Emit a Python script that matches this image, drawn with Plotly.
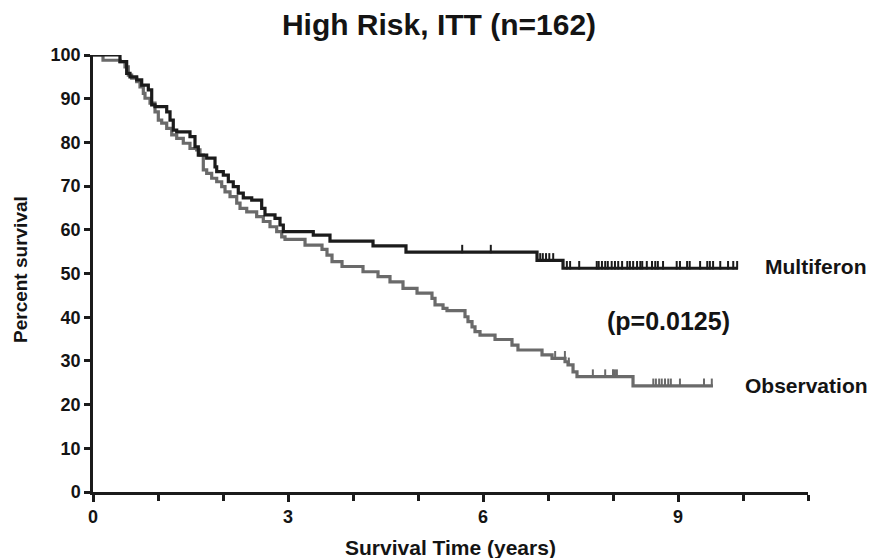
import numpy as np
import plotly.graph_objects as go

# ---- data ----
multiferon_time = [0, 0.415, 0.518, 0.569, 0.672, 0.749, 0.851, 0.903, 0.954, 1.134,
                   1.185, 1.235, 1.288, 1.492, 1.569, 1.620, 1.749, 1.877, 1.903, 2.005,
                   2.082, 2.158, 2.235, 2.312, 2.442, 2.595, 2.646, 2.80, 2.877, 2.928,
                   3.389, 3.646, 4.308, 4.815, 6.831, 7.231, 9.92]
multiferon_surv = [100, 98.5, 95.8, 95.0, 94.3, 93.1, 92.0, 88.6, 88.2, 87.0,
                   85.1, 82.8, 82.4, 81.3, 79.0, 77.1, 76.4, 74.4, 73.3, 72.5,
                   71.0, 69.9, 68.4, 67.3, 66.8, 64.9, 63.4, 62.6, 61.1, 59.6,
                   58.8, 57.4, 56.3, 54.9, 53.0, 51.2, 51.2]
multiferon_censor = [5.68, 6.12, 6.88, 6.92, 6.97, 7.02, 7.08, 7.29, 7.34, 7.48, 7.75,
                     7.78, 7.83, 7.88, 7.92, 7.98, 8.03, 8.08, 8.14, 8.22, 8.26, 8.31,
                     8.37, 8.42, 8.45, 8.52, 8.60, 8.65, 8.69, 8.77, 8.98, 9.03, 9.14,
                     9.18, 9.34, 9.45, 9.49, 9.54, 9.65, 9.77, 9.85, 9.91]

observation_time = [0, 0.154, 0.415, 0.492, 0.543, 0.595, 0.672, 0.723, 0.774, 0.800,
                    0.877, 0.954, 1.005, 1.057, 1.134, 1.211, 1.288, 1.389, 1.492, 1.595,
                    1.646, 1.697, 1.749, 1.826, 1.903, 1.980, 2.031, 2.108, 2.211, 2.262,
                    2.365, 2.518, 2.620, 2.723, 2.826, 2.903, 2.954, 3.262, 3.523, 3.600,
                    3.677, 3.831, 4.154, 4.385, 4.569, 4.769, 4.985, 5.215, 5.262, 5.385,
                    5.446, 5.723, 5.769, 5.831, 5.877, 5.954, 6.185, 6.446, 6.538, 6.908,
                    7.062, 7.262, 7.308, 7.385, 7.446, 8.308, 9.538]
observation_surv = [100, 98.8, 98.5, 97.3, 95.4, 94.7, 93.9, 92.7, 91.2, 90.1,
                    89.0, 87.0, 85.1, 84.4, 83.2, 81.7, 80.9, 79.8, 78.6, 78.3,
                    77.1, 73.7, 72.9, 71.8, 71.0, 69.9, 68.7, 67.6, 66.1, 64.9,
                    64.1, 63.0, 61.9, 60.7, 59.6, 58.4, 57.8, 56.5, 55.5, 54.2,
                    52.7, 51.6, 50.4, 49.3, 48.1, 46.6, 45.5, 44.3, 42.8, 42.0,
                    41.5, 40.1, 39.0, 37.8, 36.7, 35.9, 34.9, 33.6, 32.5, 31.4,
                    30.6, 29.8, 29.1, 27.5, 26.4, 24.3, 24.3]
observation_censor = [7.11, 7.26, 7.32, 7.69, 7.88, 8.00, 8.03, 8.06, 8.62, 8.66, 8.71,
                      8.75, 8.80, 8.85, 8.89, 9.03, 9.40, 9.52]

x_tickvals = [0, 3, 6, 9]
y_tickvals = list(range(0, 101, 10))

BLACK = "#1b1b1b"
GRAY = "#6a6a6a"
TXT = "#141414"
FONT = "Liberation Sans"

# the page body adds an 8 px offset; the figure is sized to fit the window after it
FIG_W, FIG_H = 877, 550


def surv_at(times, surv, t):
    idx = np.searchsorted(np.asarray(times), np.asarray(t), side="right") - 1
    return np.asarray(surv)[idx]


fig = go.Figure()
for name, t, s, c, col in [
    ("Observation", observation_time, observation_surv, observation_censor, GRAY),
    ("Multiferon", multiferon_time, multiferon_surv, multiferon_censor, BLACK),
]:
    fig.add_trace(go.Scatter(x=t, y=s, mode="lines", line=dict(shape="hv", color=col, width=3.2),
                             name=name, showlegend=False, cliponaxis=False))
    cy = surv_at(t, s, c) + 0.7
    fig.add_trace(go.Scatter(x=c, y=cy, mode="markers",
                             marker=dict(symbol="line-ns", size=6, line=dict(color=col, width=2)),
                             showlegend=False, cliponaxis=False))

fig.add_annotation(x=10.31, y=51.7, xref="x", yref="y", text="Multiferon", showarrow=False,
                   xanchor="left", font=dict(family=FONT, size=21, color=TXT, weight="bold"))
fig.add_annotation(x=7.88, y=39.1, xref="x", yref="y", text="(p=0.0125)", showarrow=False,
                   xanchor="left", font=dict(family=FONT, size=25, color=TXT, weight="bold"))
fig.add_annotation(x=10.0, y=24.3, xref="x", yref="y", text="Observation", showarrow=False,
                   xanchor="left", font=dict(family=FONT, size=21, color=TXT, weight="bold"))

# axis titles placed in the margins
fig.add_annotation(x=0.5, y=-55 / 437, xref="paper", yref="paper", text="Survival Time (years)",
                   showarrow=False, xanchor="center", yanchor="middle",
                   font=dict(family=FONT, size=21, color=TXT, weight="bold"))
fig.add_annotation(x=-73 / 715, y=0.508, xref="paper", yref="paper", text="Percent survival",
                   showarrow=False, textangle=-90, xanchor="center", yanchor="middle",
                   font=dict(family=FONT, size=19, color=TXT, weight="bold"))

fig.update_layout(
    width=FIG_W, height=FIG_H,
    margin=dict(l=85, r=77, t=47, b=66),
    paper_bgcolor="white", plot_bgcolor="white",
    title=dict(text="High Risk, ITT (n=162)", x=431 / FIG_W, xanchor="center",
               y=1 - 16 / FIG_H, yanchor="middle",
               font=dict(family=FONT, size=30, color=TXT, weight="bold")),
    xaxis=dict(range=[0, 11], tickvals=x_tickvals, ticktext=[str(v) for v in x_tickvals],
               automargin=False,
               showgrid=False, zeroline=False, showline=True, linecolor=BLACK, linewidth=2.5,
               ticks="outside", ticklen=7, tickwidth=2.5, tickcolor=BLACK,
               minor=dict(dtick=1, ticks="outside", ticklen=6, tickwidth=2.5, tickcolor=BLACK),
               tickfont=dict(family=FONT, size=18, color=TXT, weight="bold")),
    yaxis=dict(range=[0, 100], tickvals=y_tickvals, automargin=False,
               showgrid=False, zeroline=False, showline=True, linecolor=BLACK, linewidth=2.5,
               ticks="outside", ticklen=6, tickwidth=2.5, tickcolor=BLACK,
               tickfont=dict(family=FONT, size=18, color=TXT, weight="bold")),
)

fig.write_html("out.html")
